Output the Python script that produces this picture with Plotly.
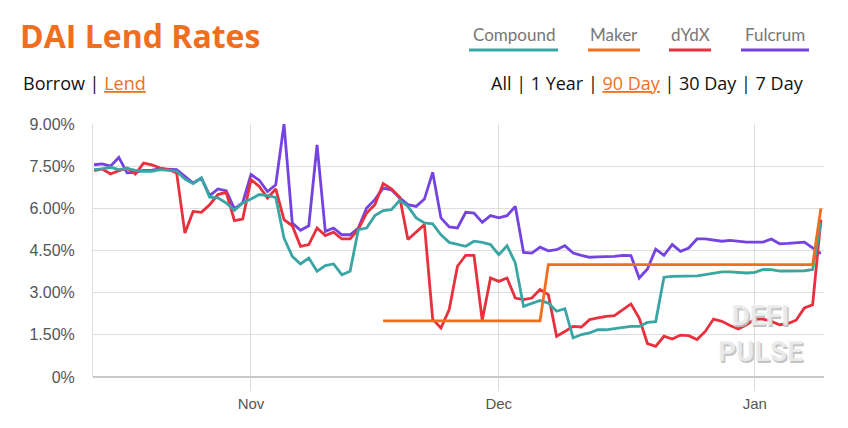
import pandas as pd
import plotly.graph_objects as go

dates = pd.date_range("2019-10-13", "2020-01-09", freq="D")

compound = [7.38, 7.40, 7.46, 7.38, 7.42, 7.35, 7.32, 7.32, 7.38, 7.34,
            7.32, 7.04, 6.88, 7.08, 6.40, 6.37, 6.19, 5.93, 6.19, 6.33,
            6.49, 6.45, 6.39, 4.94, 4.29, 4.02, 4.23, 3.76, 3.96, 4.02,
            3.64, 3.76, 5.24, 5.30, 5.74, 5.92, 5.95, 6.28, 6.07, 5.66,
            5.48, 5.45, 5.06, 4.79, 4.71, 4.65, 4.83, 4.79, 4.71, 4.35,
            4.67, 4.06, 2.51, 2.61, 2.72, 2.63, 2.34, 2.43, 1.39, 1.51,
            1.57, 1.68, 1.68, 1.72, 1.77, 1.80, 1.80, 1.94, 1.97, 3.55,
            3.58, 3.59, 3.59, 3.60, 3.64, 3.70, 3.74, 3.74, 3.71, 3.70,
            3.72, 3.83, 3.82, 3.77, 3.77, 3.77, 3.78, 3.82, 5.48]

maker = [None] * 35 + [2.0] * 20 + [4.0] * 33 + [6.0]

dydx = [7.34, 7.40, 7.22, 7.34, 7.43, 7.22, 7.61, 7.55, 7.43, 7.38,
        7.26, 5.12, 5.89, 5.86, 6.13, 6.49, 6.57, 5.56, 5.62, 7.02,
        6.78, 6.37, 6.69, 5.60, 5.38, 4.65, 4.71, 5.30, 5.03, 5.15,
        4.91, 4.91, 5.26, 5.83, 6.13, 6.88, 6.69, 6.40, 4.89, 5.15,
        5.42, 2.06, 1.74, 2.40, 3.94, 4.33, 4.33, 2.02, 3.52, 3.40,
        3.52, 2.81, 2.75, 2.81, 3.11, 2.93, 1.45, 1.62, 1.80, 1.78,
        2.04, 2.10, 2.16, 2.18, 2.40, 2.60, 2.10, 1.19, 1.09, 1.45,
        1.35, 1.49, 1.47, 1.33, 1.62, 2.06, 1.98, 1.83, 1.71, 1.86,
        2.06, 2.06, 1.98, 1.86, 1.90, 2.02, 2.46, 2.57, 5.60]

fulcrum = [7.55, 7.58, 7.50, 7.81, 7.26, 7.28, 7.35, 7.36, 7.40, 7.38,
           7.38, 7.14, 6.90, 7.08, 6.45, 6.69, 6.63, 5.98, 6.20, 7.20,
           7.00, 6.60, 6.84, 9.00, 5.48, 5.22, 5.38, 8.26, 5.18, 5.30,
           5.06, 5.06, 5.30, 6.01, 6.31, 6.72, 6.66, 6.37, 6.13, 6.07,
           6.33, 7.28, 5.66, 5.34, 5.30, 5.86, 5.83, 5.50, 5.74, 5.66,
           5.74, 6.07, 4.43, 4.41, 4.62, 4.49, 4.53, 4.67, 4.41, 4.33,
           4.26, 4.27, 4.28, 4.29, 4.33, 4.32, 3.52, 3.84, 4.55, 4.33,
           4.71, 4.47, 4.59, 4.91, 4.91, 4.86, 4.83, 4.86, 4.83, 4.80,
           4.80, 4.80, 4.91, 4.74, 4.75, 4.77, 4.80, 4.59, 4.39]

series_names = ["Compound", "Maker", "dYdX", "Fulcrum"]
series_colors = ["#3aa6a4", "#ef6f1f", "#e8303e", "#7443e0"]

ytick_vals = [0, 1.5, 3.0, 4.5, 6.0, 7.5, 9.0]
ytick_text = ["0%", "1.50%", "3.00%", "4.50%", "6.00%", "7.50%", "9.00%"]
xtick_vals = ["2019-11-01", "2019-12-01", "2020-01-01"]
xtick_text = ["Nov", "Dec", "Jan"]

L, R, T, B = 93, 824, 124, 377
PW, PH = R - L, B - T


def px(x):
    return (x - L) / PW


def py(y):
    return (B - y) / PH


fig = go.Figure()
data_map = {"Compound": compound, "Maker": maker, "dYdX": dydx, "Fulcrum": fulcrum}
for name in ["Fulcrum", "dYdX", "Compound", "Maker"]:
    c = series_colors[series_names.index(name)]
    fig.add_trace(go.Scatter(x=dates, y=data_map[name], mode="lines", name=name,
                             line=dict(color=c, width=2.8), showlegend=False))

fig.update_layout(
    width=848, height=428,
    margin=dict(l=L, r=848 - R, t=T, b=428 - B),
    paper_bgcolor="white", plot_bgcolor="white",
    font=dict(family="Liberation Sans, Arial", color="#555"),
)
fig.update_xaxes(
    range=["2019-10-12 21:00", "2020-01-09 09:00"],
    tickvals=xtick_vals, ticktext=xtick_text,
    showgrid=True, gridcolor="#dedede", gridwidth=1,
    ticks="outside", ticklen=13, tickcolor="#dedede",
    tickfont=dict(size=15, color="#555"),
    showline=False, zeroline=False,
)
fig.update_yaxes(
    range=[0, 9.0], tickvals=ytick_vals, ticktext=ytick_text,
    showgrid=True, gridcolor="#dedede", gridwidth=1,
    tickfont=dict(size=16, color="#555"),
    ticklabelstandoff=14,
    showline=True, linecolor="#dedede", linewidth=1,
    zeroline=True, zerolinecolor="#c8c8c8", zerolinewidth=1.5,
)

# Title
fig.add_annotation(xref="paper", yref="paper", x=px(18), y=py(35),
                   xanchor="left", yanchor="middle", showarrow=False,
                   text="<b>DAI Lend Rates</b>",
                   font=dict(family="Open Sans", size=32, color="#ef6f1f"))

# Custom legend
legend_pos = [(469, 558), (588, 640), (669, 711), (741, 809)]
for name, c, (x0, x1) in zip(series_names, series_colors, legend_pos):
    fig.add_annotation(xref="paper", yref="paper", x=px((x0 + x1) / 2),
                       y=py(34), xanchor="center", yanchor="middle",
                       showarrow=False, text=name,
                       font=dict(family="Lato", size=17, color="#777"))
    fig.add_shape(type="rect", xref="paper", yref="paper",
                  x0=px(x0), x1=px(x1), y0=py(51.5), y1=py(48.5),
                  fillcolor=c, line=dict(width=0))

# Borrow | Lend
fig.add_annotation(xref="paper", yref="paper", x=px(21), y=py(83),
                   xanchor="left", yanchor="middle", showarrow=False,
                   text="Borrow | <span style='color:#ef6f1f;text-decoration:underline'>Lend</span>",
                   font=dict(family="Open Sans", size=18, color="#111"))

# Range selector
fig.add_annotation(xref="paper", yref="paper", x=px(806), y=py(83),
                   xanchor="right", yanchor="middle", showarrow=False,
                   text="All | 1 Year | <span style='color:#ef6f1f;text-decoration:underline'>90 Day</span> | 30 Day | 7 Day",
                   font=dict(family="Open Sans", size=18, color="#111"))

# Watermark
fig.add_annotation(xref="paper", yref="paper", x=px(760), y=py(333.5),
                   xanchor="center", yanchor="middle", showarrow=False,
                   text="<b>DEFI<br>PULSE</b>",
                   font=dict(family="Roboto", size=28, color="rgba(236,236,236,0.92)",
                             shadow="1.5px 1.5px 0px rgb(190,190,190)"))

fig.write_html("out.html")
